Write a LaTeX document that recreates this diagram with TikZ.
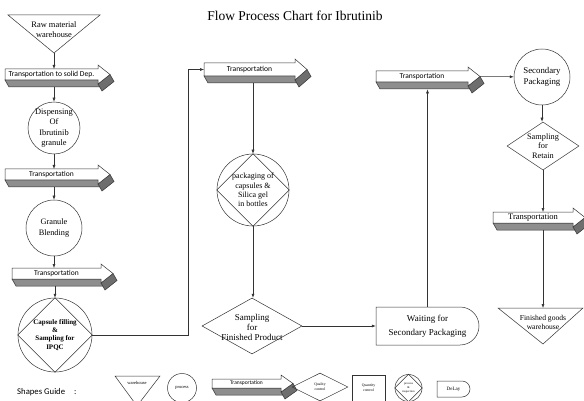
\documentclass[tikz,border=0pt]{standalone}
\usepackage{fontspec}
\setmainfont{Liberation Serif}
\newfontfamily\calib{Carlito}
\usetikzlibrary{shapes.geometric,shapes.misc,arrows.meta}
\definecolor{ln}{HTML}{333333}
\definecolor{tg}{HTML}{8E8E8E}
\definecolor{tgd}{HTML}{6E6E6E}
\tikzset{
 lnst/.style={draw=ln,line width=0.5pt},
 circ/.style={circle,lnst,inner sep=0,minimum size=#1},
 txt/.style={align=center,inner sep=0},
 arr/.style={ln,line width=0.5pt,-{Latex[length=4pt,width=3pt]}},
 con/.style={ln,line width=0.5pt},
 dmd/.style={diamond,lnst,inner sep=0},
 dly/.style={rounded rectangle,rounded rectangle left arc=none,lnst,inner sep=0},
}
% name, x0, x1, y0, h, font, text
\newcommand\transp[7]{%
  \fill[tg,draw=ln,line width=0.5pt] (#2,#4+#5) -- (#3,#4+#5) -- (#3+4,#4+#5+7) -- (#2+4,#4+#5+7) -- cycle;
  \fill[tgd,draw=ln,line width=0.5pt] (#3+12,#4+#5/2) -- (#3,#4+#5+4) -- (#3+4,#4+#5+11) -- (#3+16,#4+#5/2+7) -- cycle;
  \draw[ln,fill=white,line width=0.5pt] (#2,#4) -- (#3,#4) -- (#3,#4-4) -- (#3+12,#4+#5/2) -- (#3,#4+#5+4) -- (#3,#4+#5) -- (#2,#4+#5) -- cycle;
  \node[inner sep=0,minimum width={(#3-#2)*1pt},minimum height={(#5+7)*1pt},anchor=north west] (#1) at (#2,#4) {};
  \coordinate (#1tip) at (#3+12,#4+#5/2);
  \node[inner sep=0,font=#6] (#1t) at ({(#2+#3)/2},{#4+#5/2}) {#7};
}
\begin{document}
\begin{tikzpicture}[x=1pt,y=-1pt]
\useasboundingbox (0,0) rectangle (584,401);
\clip (0,0) rectangle (584,401);
\fill[white] (0,0) rectangle (584,401);

\node[font=\fontsize{13.5}{16}\selectfont] (title) at (295,16) {Flow Process Chart for Ibrutinib};

% left column
\draw[lnst] (8,15) -- (100,15) -- (54,53) -- cycle;
\coordinate (rawtip) at (54,53);
\node[txt,font=\fontsize{8.4}{10}\selectfont] (rawt) at (54,30) {Raw material\\warehouse};

\transp{T1}{5}{98}{69}{11}{\calib\fontsize{7.6}{9}\selectfont}{Transportation to solid Dep.}
\draw[arr] (rawtip) -- (rawtip |- T1.north);

\node[circ=52pt] (c1) at (54,128) {};
\node[txt,font=\fontsize{8.4}{10.5}\selectfont] (c1t) at (c1) {Dispensing\\Of\\Ibrutinib\\granule};
\draw[arr] (T1.south -| c1) -- (c1);

\transp{T2}{5}{98}{169}{11}{\calib\fontsize{7.5}{9}\selectfont}{Transportation}
\draw[arr] (c1) -- (c1 |- T2.north);

\node[circ=56pt] (c2) at (54,228) {};
\node[txt,font=\fontsize{8.3}{11}\selectfont] (c2t) at (c2) {Granule\\Blending};
\draw[arr] (T2.south -| c2) -- (c2);

\transp{T3}{12}{101}{268}{11}{\calib\fontsize{7.5}{9}\selectfont}{Transportation}
\draw[arr] (c2) -- (c2 |- T3.north);

\node[circ=74pt] (c3) at (55,335) {};
\draw[lnst] (c3.north) -- (c3.east) -- (c3.south) -- (c3.west) -- cycle;
\node[txt,font=\bfseries\fontsize{7}{8.2}\selectfont] (c3t) at (c3) {Capsule filling\\\&\\Sampling for\\IPQC};
\draw[arr] (T3.south -| c3) -- (c3);

% middle column
\transp{T4}{204}{295}{63}{13}{\calib\fontsize{7.6}{9}\selectfont}{Transportation}
\draw[arr] (c3.east) -- ++(96,0) |- (T4t -| T4.west);

\node[circ=72pt] (c4) at (253,190) {};
\draw[lnst] (c4.north) -- (c4.east) -- (c4.south) -- (c4.west) -- cycle;
\node[txt,font=\fontsize{8}{9.3}\selectfont] (c4t) at (c4) {packaging of\\capsules \&\\Silica gel\\in bottles};
\draw[arr] (T4.south -| c4) -- (c4);

\node[dmd,minimum width=100pt,minimum height=56pt] (d1) at (252,326) {};
\node[txt,font=\fontsize{9}{10}\selectfont] (d1t) at (252,327) {Sampling\\for\\Finished Product};
\draw[arr] (c4) -- (c4 |- d1.north);

\node[dly,minimum width=103pt,minimum height=38pt] (wait) at (427.5,326) {};
\node[txt,font=\fontsize{9}{14}\selectfont] (waitt) at (wait) {Waiting for\\Secondary Packaging};
\draw[arr] (d1.east) -- (wait.west);

\transp{T5}{376}{468}{71}{11}{\calib\fontsize{7.5}{9}\selectfont}{Transportation}
\draw[arr] (wait.north) -- (wait.north |- T5.south);

% right column
\node[circ=56pt] (c5) at (542,77) {};
\node[txt,font=\fontsize{8.8}{11}\selectfont] (c5t) at (c5) {Secondary\\Packaging};
\draw[arr] (T5tip) -- (c5);

\node[dmd,minimum width=72pt,minimum height=48pt] (d2) at (543,146) {};
\node[txt,font=\fontsize{8.3}{9.5}\selectfont] (d2t) at (d2) {Sampling\\for\\Retain};
\draw[arr] (c5) -- (c5 |- d2.north);

\transp{T6}{493}{573}{212}{11}{\fontsize{8.5}{10}\selectfont}{Transportation}
\draw[arr] (d2.south) -- (d2.south |- T6.north);

\draw[lnst] (498,308) -- (583,308) -- (543,344) -- cycle;
\coordinate (fgtop) at (543,308);
\node[txt,font=\fontsize{7.6}{9.5}\selectfont] (fgt) at (543,322.5) {Finished goods\\warehouse};
\draw[arr] (T6.south -| fgtop) -- (fgtop);

% shapes guide
\node[font=\calib\fontsize{8.7}{10}\selectfont,anchor=west,inner sep=0] (sg) at (17,392) {Shapes Guide\hspace{9pt}:};
\draw[lnst] (115,376) -- (160,376) -- (137,406) -- cycle;
\node[txt,font=\fontsize{4.5}{5}\selectfont] (gwt) at (137,383) {warehouse};
\node[circ=29pt] (gc) at (182,388) {};
\node[txt,font=\fontsize{4.5}{5}\selectfont] (gct) at (gc) {process};
\transp{G}{212}{281}{379}{9}{\calib\fontsize{5.5}{7}\selectfont}{Transportation}
\node[dmd,minimum width=56pt,minimum height=28pt] (gd) at (320,387) {};
\node[txt,font=\fontsize{3.8}{5}\selectfont] (gdt) at (gd) {Quality\\control};
\node[rectangle,lnst,minimum width=33pt,minimum height=30pt,inner sep=0] (gr) at (368.5,390) {};
\node[txt,font=\fontsize{3.8}{5.5}\selectfont] (grt) at (368.5,388) {Quantity\\control};
\node[circ=27pt] (gci) at (408.5,388) {};
\draw[lnst] (gci.north) -- (gci.east) -- (gci.south) -- (gci.west) -- cycle;
\node[txt,font=\fontsize{3}{4}\selectfont] (gcit) at (gci) {process\\\&\\inspection};
\node[dly,minimum width=33pt,minimum height=16pt] (gdl) at (453.5,389) {};
\node[txt,font=\fontsize{5}{6}\selectfont] (gdlt) at (gdl) {DeLay};
\end{tikzpicture}
\end{document}
